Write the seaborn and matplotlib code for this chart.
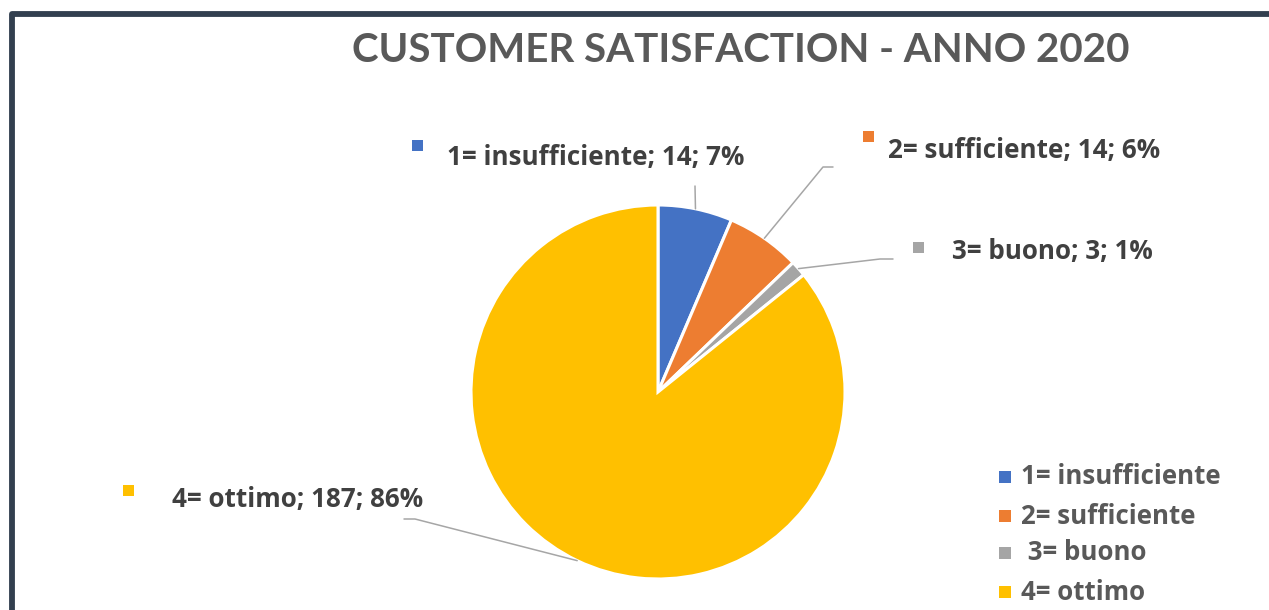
import numpy as np
import matplotlib
matplotlib.use("Agg")
import matplotlib.pyplot as plt
import seaborn as sns
from matplotlib.lines import Line2D
from matplotlib.patches import Rectangle

# ---- data ----
categories = ["1= insufficiente", "2= sufficiente", "3= buono", "4= ottimo"]
legend_labels = ["1= insufficiente", "2= sufficiente", " 3= buono", "4= ottimo"]
counts = [14, 14, 3, 187]
pct_labels = ["7%", "6%", "1%", "86%"]
colors = ["#4472C4", "#ED7D31", "#A5A5A5", "#FFC000"]
title = "CUSTOMER SATISFACTION - ANNO 2020"

sns.set_theme(style="white")
plt.rcParams['font.family'] = ['Open Sans', 'DejaVu Sans']

W, H = 1269, 610
fig = plt.figure(figsize=(W / 100, H / 100), dpi=100)
fig.patch.set_facecolor("white")

def fx(px):
    return px / W

def fy(py):
    return 1 - py / H

# frame (left + top visible)
frame = Rectangle((fx(12), fy(H + 30)), fx(W + 40), (H + 30 - 14) / H,
                  transform=fig.transFigure, fill=False, edgecolor="#323F4F",
                  linewidth=4.2, joinstyle="round")
fig.add_artist(frame)

# title
fig.text(fx(741), fy(50), title, ha="center", va="center", fontsize=29,
         fontweight="bold", color="#595959", family=["Lato", "DejaVu Sans"])

# pie axes: center (658,392), radius 187
cx, cy, r = 658, 392, 187
ax = fig.add_axes([fx(cx - r), fy(cy + r), 2 * r / W, 2 * r / H])
wedges, _ = ax.pie(counts, colors=colors, startangle=90, counterclock=False,
                   wedgeprops=dict(edgecolor="white", linewidth=2.2))
ax.set_xlim(-1, 1)
ax.set_ylim(-1, 1)
ax.set_aspect("equal")
ax.axis("off")

# data labels
frac = np.array(counts) / np.sum(counts)
cum = np.concatenate([[0], np.cumsum(frac)])
mid = 90 - 360 * (cum[:-1] + cum[1:]) / 2

label_pos = [  # marker center, text x, text y (pixels)
    ((417, 145), 447, 158),
    ((868, 136), 888, 150),
    ((918, 248), 952, 252),
    ((128, 490), 172, 500),
]
leader_pts = [
    [(695, 186)],
    [(823, 167), (833, 167)],
    [(880, 259), (893, 259)],
    [(415, 519), (404, 519)],
]
for i, cat in enumerate(categories):
    (mx, my), tx, ty = label_pos[i]
    fig.add_artist(Rectangle((fx(mx - 5.5), fy(my + 5.5)), 11 / W, 11 / H,
                             transform=fig.transFigure, color=colors[i], lw=0))
    fig.text(fx(tx), fy(ty), f"{cat}; {counts[i]}; {pct_labels[i]}",
             ha="left", va="center", fontsize=18.7, fontweight="bold",
             color="#404040")
    a = np.deg2rad(mid[i])
    px = cx + r * np.cos(a)
    py = cy - r * np.sin(a)
    pts = [(px, py)] + leader_pts[i]
    xs = [fx(p[0]) for p in pts]
    ys = [fy(p[1]) for p in pts]
    fig.add_artist(Line2D(xs, ys, transform=fig.transFigure, color="#A6A6A6",
                          lw=1.1))

# legend
leg_y = [477, 516, 553, 592]
for i, lab in enumerate(legend_labels):
    fig.add_artist(Rectangle((fx(999), fy(leg_y[i] + 6)), 12 / W, 12 / H,
                             transform=fig.transFigure, color=colors[i], lw=0))
    fig.text(fx(1021), fy(leg_y[i]), lab, ha="left", va="center",
             fontsize=18.6, fontweight="bold", color="#595959")

fig.savefig("out.png", dpi=100)
